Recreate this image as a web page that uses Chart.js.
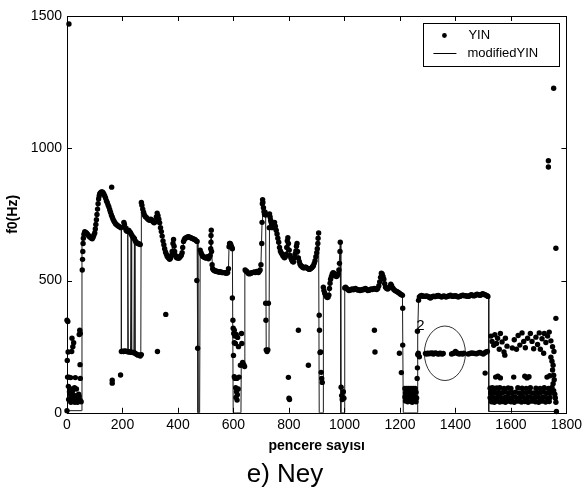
<!DOCTYPE html>
<html>
<head>
<meta charset="utf-8">
<script src="https://cdn.jsdelivr.net/npm/chart.js@4.4.1/dist/chart.umd.min.js"></script>
<style>
html,body{margin:0;padding:0;background:#fff;}
#wrap{width:586px;height:493px;}
</style>
</head>
<body>
<div id="wrap"><canvas id="c" width="586" height="493"></canvas></div>
<script>
// ---- data ----
const xTicks = [0,200,400,600,800,1000,1200,1400,1600,1800];
const yTicks = [0,500,1000,1500];
const seriesNames = ['YIN','modifiedYIN'];
const xTitle = 'pencere sayısı';
const yTitle = 'f0(Hz)';
const caption = 'e) Ney';
const annotationLabel = '2';

// YIN main pitch contour
const yinContour = [
[55,540],[56,580],[57,610],[58,640],[59,660],[61,675],[64,685],[67,682],[70,680],[73,676],[76,672],[79,668],[82,665],[85,664],[88,660],[91,658],[94,664],[97,672],[100,680],[102,695],[104,712],[106,730],[108,750],[110,770],[112,790],[114,808],[116,820],[118,828],[121,832],[124,835],[127,835],[130,832],[133,826],[136,820],[139,812],[142,802],[145,795],[148,786],[151,778],[154,768],[157,758],[160,748],[163,740],[166,732],[169,725],[172,720],[175,715],[178,712],[182,708],[186,705],[190,703],[194,700],
[205,720],[207,712],[210,700],[213,690],[216,686],[219,688],[222,690],[225,686],[228,682],[231,676],[234,670],[237,665],[240,662],[243,658],[246,650],[249,645],[252,642],[256,640],[260,638],[264,636],
[268,795],[270,785],[273,770],[276,758],[279,748],[282,742],[286,738],[290,734],[294,730],[298,728],[302,732],[306,728],[310,722],[314,718],[318,722],[322,740],[325,755],[328,745],[331,732],[334,718],[337,700],[340,685],[343,668],[346,650],[349,635],[352,620],[355,608],[358,600],[361,592],[364,588],[367,584],[370,580],[373,584],[376,595],[379,610],[382,640],[384,655],[386,630],[388,610],[391,595],[394,588],[397,585],[400,588],[403,584],[406,588],[409,592],[412,596],[415,605],[417,625],[420,648],[423,655],[426,660],[430,662],[434,665],[438,666],[442,664],[446,662],[450,660],[454,658],[458,656],[462,654],[466,650],[469,648],
[480,615],[483,605],[486,598],[489,592],[492,590],[495,588],[498,586],[501,585],[504,588],[507,590],[510,582],[513,588],[516,595],[518,620],[519,645],[519,670],[520,690],[521,610],[523,560],[525,545],[528,540],[531,538],[534,536],[537,535],[540,535],[543,533],[546,533],[549,532],[552,532],[555,532],[558,530],[561,530],[564,530],[567,530],[570,530],[573,528],[576,528],[579,530],[582,545],[584,628],[586,640],[588,640],[590,636],[592,630],[594,625],[596,620],
[642,540],[645,536],[648,534],[651,530],[654,527],[657,525],[660,527],[663,528],[666,530],[669,530],[672,531],[675,532],[678,530],[681,531],[684,534],[687,533],[690,530],[693,535],[696,540],[699,560],
[702,640],[703,720],[704,790],[705,806],[706,795],[708,775],[710,760],[712,750],[714,758],[716,748],
[729,700],[730,752],[732,740],[734,728],[736,720],[738,708],[740,700],[743,706],[746,715],[748,720],[751,705],[754,690],[757,676],[760,660],[763,645],[766,625],[769,612],[772,605],[775,600],[778,594],[781,590],[784,586],[787,590],[790,600],[792,625],[794,650],[796,662],[798,640],[801,615],[804,595],[807,585],[810,578],[813,572],[816,570],[819,585],[822,600],[825,612],[827,630],[829,640],[831,610],[834,585],[837,572],[840,562],[843,556],[846,554],[849,550],[852,548],[855,548],[858,550],[861,550],[864,548],[867,546],[870,545],[873,542],[876,544],[879,546],[882,548],[885,552],[888,556],[891,565],[894,575],[897,590],[900,605],[902,620],[904,640],[905,660],[907,680],
[924,475],[926,462],[929,452],[932,445],[935,440],[938,436],[941,438],[944,445],[946,470],[948,490],[950,505],[953,515],[956,525],[959,530],[962,528],[965,522],[968,518],[971,515],[974,518],[977,525],[980,540],[982,565],[984,610],[985,645],
[1001,472],[1004,475],[1008,470],[1012,466],[1016,462],[1020,463],[1024,466],[1028,468],[1032,465],[1036,468],[1040,470],[1044,466],[1048,464],[1052,465],[1056,462],[1060,463],[1064,466],[1068,465],[1072,468],[1076,470],[1080,466],[1084,462],[1088,463],[1092,465],[1096,468],[1100,466],[1104,468],[1108,470],[1112,468],[1116,466],[1120,470],[1124,480],[1127,495],[1130,512],[1133,528],[1136,525],[1139,515],[1142,505],[1145,488],[1148,475],[1152,470],[1156,468],[1160,472],[1164,478],[1167,486],[1170,480],[1174,472],[1178,466],[1182,462],[1186,460],[1190,458],[1194,455],[1198,452],[1202,448],[1206,446],[1209,444],
[1267,425],[1270,438],[1274,442],[1278,444],[1282,442],[1286,440],[1290,440],[1294,442],[1298,441],[1302,440],[1306,436],[1310,434],[1314,438],[1318,440],[1322,441],[1326,439],[1330,440],[1334,443],[1338,444],[1342,441],[1346,440],[1350,438],[1354,440],[1358,442],[1362,440],[1366,438],[1370,440],[1374,441],[1378,443],[1382,445],[1386,442],[1390,440],[1394,441],[1398,443],[1402,442],[1406,440],[1410,438],[1414,440],[1418,441],[1422,443],[1426,445],[1430,444],[1434,442],[1438,443],[1442,441],[1446,440],[1450,442],[1454,445],[1458,446],[1462,444],[1466,442],[1470,443],[1474,446],[1478,448],[1482,446],[1486,445],[1490,444],[1494,447],[1498,450],[1502,448],[1506,446],[1510,445],[1514,443],[1517,440]
];

// YIN off-contour estimates (octave errors, noise)
const yinStart = [[0,8],[0,350],[3,345],[1,198],[4,230],[2,135],[7,135],[13,133],[5,100],[9,80],[12,68],[16,58],[20,47],[6,50],[14,40],[24,52],[28,40],[32,56],[36,44],[40,52],[26,66],[20,82],[44,62],[47,48],[18,282],[21,250],[24,265],[17,232],[30,133],[44,296],[46,312],[48,300],[47,182],[48,130],[51,42],[38,40],[42,70],[34,90],[27,95],[10,92]];
const yinOutliers = [[7,1470],[161,853],[163,123],[163,112],[193,143],[326,232],[356,372],
[468,500],[471,244],[798,134],[800,55],[802,50],[834,312],[870,180],
[1108,312],[1110,230],[1198,225],[1205,152],[1210,256],[1210,395],[1507,150],
[1754,1227],[1735,953],[1735,929],[1762,622],[1762,357],[1764,5]];
const yinLowBand = [[196,232],[200,233],[204,232],[208,234],[212,233],[216,232],[220,231],[224,230],[228,230],[232,229],[236,228],[240,228],[244,226],[248,223],[252,220],[256,218],[260,219],[264,215],[268,220]];
const yinDrops = [
[596,434],[598,350],[599,320],[601,300],[603,312],[605,290],[603,265],[607,262],[610,296],[615,285],[618,250],[600,217],[603,136],[606,130],[612,130],[608,95],[611,80],[614,68],[609,58],[613,48],[617,90],[620,135],[625,180],[629,300],[630,262],[633,190],[637,182],[640,175],
[716,414],[717,350],[718,238],[721,232],[724,238],[726,414],
[909,369],[910,312],[912,228],[914,230],[916,153],[918,130],[920,115],
[988,97],[990,65],[992,50],[996,80],[998,55],
[1218,92],[1225,92],[1232,92],[1240,92],[1248,92],[1255,92],[1220,75],[1228,75],[1236,78],[1244,75],[1252,75],[1258,78],[1218,60],[1224,58],[1230,62],[1236,56],[1242,60],[1248,58],[1254,60],[1260,56],[1220,45],[1228,42],[1236,44],[1244,40],[1252,45],[1258,42],
[1262,130],[1263,170],[1264,220],[1263,308],[1266,225],[1270,212]];
const yinCircled = [[1292,224],[1296,222],[1300,225],[1304,223],[1308,225],[1312,224],[1316,226],[1320,222],[1324,224],[1328,226],[1332,224],[1336,223],[1340,222],[1344,225],[1348,224],[1352,222],[1356,224],[1386,222],[1391,224],[1396,226],[1400,232],[1404,228],[1408,224],[1414,222],[1420,224],[1426,222],[1430,225],[1446,222],[1452,224],[1458,226],[1464,225],[1470,224],[1476,223],[1482,226],[1488,228],[1494,225],[1500,222],[1505,226],[1510,230],[1515,232]];
const yinTail = [
[1528,290],[1532,270],[1538,255],[1542,295],[1548,262],[1552,282],[1558,240],[1562,300],[1568,268],[1575,230],[1580,282],[1586,252],[1605,245],[1612,276],[1620,240],[1626,292],[1632,256],[1640,302],[1646,270],[1652,246],[1660,282],[1670,300],[1676,270],[1682,242],[1690,286],[1696,258],[1702,302],[1706,240],[1712,280],[1720,300],[1726,266],[1732,290],[1738,305],[1744,272],[1750,250],[1755,232],[1578,218],[1718,225],
[1744,210],[1748,195],[1752,180],[1750,162],[1754,142],[1756,125],[1752,110],[1748,96],[1754,84],[1758,70],[1760,56],[1762,40],
[1545,135],[1553,138],[1562,132],[1610,135],[1650,138],[1658,132],[1665,136],[1730,135],[1740,140],
[1525,93],[1533,95],[1541,92],[1549,94],[1560,95],[1575,92],[1590,94],[1600,92],[1625,95],[1640,93],[1655,92],[1670,95],[1690,93],[1705,92],[1720,95],[1735,92],
[1527,76],[1535,78],[1545,75],[1556,77],[1568,76],[1580,78],[1592,75],[1605,76],[1617,78],[1630,75],[1642,77],[1655,76],[1668,78],[1680,75],[1692,77],[1705,76],[1718,78],[1730,75],[1742,77],
[1525,57],[1534,60],[1543,55],[1552,58],[1561,60],[1570,55],[1579,58],[1588,60],[1597,56],[1606,58],[1615,60],[1624,55],[1633,58],[1642,60],[1651,56],[1660,58],[1669,60],[1678,55],[1687,58],[1696,60],[1705,56],[1714,58],[1723,60],[1732,55],[1741,58],
[1530,42],[1540,40],[1550,44],[1560,41],[1570,43],[1580,40],[1590,44],[1600,42],[1612,40],[1625,44],[1638,41],[1650,43],[1662,40],[1675,44],[1688,42],[1700,40],[1712,44],[1725,41],[1738,43]];

// modifiedYIN line
const modifiedYIN = [
[0,8],[52,8],[54,640],[58,675],[64,685],[70,680],[79,668],[88,660],[94,664],[100,680],[106,730],[112,790],[118,828],[124,835],[130,832],[136,820],[142,802],[148,786],[154,768],[160,748],[166,732],[172,720],[178,712],[186,705],[194,700],[196,700],[196,232],[217,232],[219,705],[221,232],[229,230],[231,686],[233,230],[241,228],[243,660],[245,226],[266,218],[267,640],[268,795],[273,770],[279,748],[286,738],[294,730],[302,732],[310,722],[318,722],[325,755],[331,732],[337,700],[343,668],[349,635],[355,608],[361,592],[370,580],[376,595],[382,640],[384,655],[388,610],[394,588],[403,584],[412,596],[417,625],[423,655],[430,662],[438,666],[450,660],[462,654],[469,648],[472,0],[478,0],[480,615],[486,598],[495,588],[504,588],[510,582],[516,595],[519,660],[521,610],[525,545],[537,535],[555,532],[576,528],[582,545],[584,628],[588,640],[596,620],[599,0],[627,0],[628,175],[640,178],[641,540],[657,525],[675,532],[690,530],[699,560],[703,720],[705,806],[710,760],[716,748],[718,237],[728,237],[730,752],[740,700],[748,720],[757,676],[766,625],[775,600],[784,586],[790,600],[796,662],[804,595],[816,570],[822,600],[829,640],[834,585],[843,556],[855,548],[870,545],[882,548],[891,565],[900,605],[907,680],[909,0],[923,0],[924,475],[932,445],[938,436],[944,445],[950,505],[959,530],[971,515],[980,540],[985,645],[987,0],[999,0],[1001,472],[1016,462],[1040,470],[1060,463],[1080,466],[1100,466],[1120,470],[1130,512],[1133,528],[1142,505],[1152,470],[1167,486],[1182,462],[1198,452],[1209,444],[1212,0],[1262,0],[1264,300],[1267,425],[1274,442],[1300,441],[1330,440],[1360,440],[1400,442],[1430,444],[1460,445],[1490,444],[1500,450],[1517,440],[1520,440],[1520,5],[1760,5]];

// circled annotation (data units)
const ellipseCenter = [1362, 225];
const ellipseRadii = [74, 103];
const labelPos = [1274, 328];

// ---- build ----
const toXY = a => a.map(p => ({x:p[0], y:p[1]}));
const yinAll = [].concat(yinContour, yinStart, yinOutliers, yinLowBand, yinDrops, yinCircled, yinTail);
const FONT = "'Liberation Sans', Arial, Helvetica, sans-serif";

const framePlugin = {
  id: 'frame',
  afterDraw(chart) {
    const {ctx, chartArea: a, scales: {x, y}} = chart;
    ctx.save();
    ctx.strokeStyle = '#000';
    ctx.lineWidth = 1;
    ctx.strokeRect(Math.round(a.left)+0.5, Math.round(a.top)+0.5, Math.round(a.right-a.left), Math.round(a.bottom-a.top));
    const tl = 5;
    ctx.beginPath();
    x.ticks.forEach(t => {
      const px = Math.round(x.getPixelForValue(t.value)) + 0.5;
      ctx.moveTo(px, a.bottom); ctx.lineTo(px, a.bottom - tl);
      ctx.moveTo(px, a.top); ctx.lineTo(px, a.top + tl);
    });
    y.ticks.forEach(t => {
      const py = Math.round(y.getPixelForValue(t.value)) + 0.5;
      ctx.moveTo(a.left, py); ctx.lineTo(a.left + tl, py);
      ctx.moveTo(a.right, py); ctx.lineTo(a.right - tl, py);
    });
    ctx.stroke();

    // ellipse annotation
    const cx = x.getPixelForValue(ellipseCenter[0]);
    const cy = y.getPixelForValue(ellipseCenter[1]);
    const rx = x.getPixelForValue(ellipseCenter[0] + ellipseRadii[0]) - cx;
    const ry = cy - y.getPixelForValue(ellipseCenter[1] + ellipseRadii[1]);
    ctx.beginPath();
    ctx.ellipse(cx, cy, rx, ry, 0, 0, Math.PI*2);
    ctx.lineWidth = 0.8;
    ctx.stroke();
    ctx.fillStyle = '#000';
    ctx.font = '15px ' + FONT;
    ctx.textAlign = 'center';
    ctx.textBaseline = 'middle';
    ctx.fillText(annotationLabel, x.getPixelForValue(labelPos[0]), y.getPixelForValue(labelPos[1]));

    // legend box
    const L = a.right - 143, T = a.top + 7, W = 136, H = 43;
    ctx.lineWidth = 1;
    ctx.fillStyle = '#fff';
    ctx.fillRect(L, T, W, H);
    ctx.strokeRect(Math.round(L)+0.5, Math.round(T)+0.5, W, H);
    ctx.fillStyle = '#000';
    ctx.beginPath();
    ctx.arc(L + 21, T + 12.5, 2.4, 0, Math.PI*2);
    ctx.fill();
    ctx.beginPath();
    ctx.moveTo(L + 10, T + 30.5); ctx.lineTo(L + 33, T + 30.5);
    ctx.stroke();
    ctx.font = '13px ' + FONT;
    ctx.textAlign = 'left';
    ctx.fillText(seriesNames[0], L + 45, T + 12.5);
    ctx.fillText(seriesNames[1], L + 44, T + 30.5);
    ctx.restore();
  }
};

new Chart(document.getElementById('c'), {
  type: 'scatter',
  data: {
    datasets: [
      { label: seriesNames[1], data: toXY(modifiedYIN), showLine: true, borderColor: '#1a1a1a', borderWidth: 1, pointRadius: 0, tension: 0, fill: false, order: 2 },
      { label: seriesNames[0], data: toXY(yinAll), showLine: false, backgroundColor: '#000', borderWidth: 0, pointRadius: 2.7, pointHoverRadius: 2.7, clip: false, order: 1 }
    ]
  },
  options: {
    responsive: false,
    animation: false,
    devicePixelRatio: 1,
    layout: { padding: { top: 16, right: 16, left: 0, bottom: 0 } },
    plugins: {
      legend: { display: false },
      tooltip: { enabled: false },
      title: { display: true, text: caption, position: 'bottom', color: '#000', font: { family: FONT, size: 26, weight: 'normal', lineHeight: 1.2 }, padding: { top: 1, bottom: 3 } }
    },
    scales: {
      x: {
        type: 'linear', min: 0, max: 1800,
        afterBuildTicks: s => { s.ticks = xTicks.map(v => ({value: v})); },
        afterFit: s => { s.height = 45; },
        grid: { display: false, drawTicks: false }, border: { display: false },
        ticks: { color: '#000', padding: 4, maxRotation: 0, autoSkip: false, font: { family: FONT, size: 14 }, callback: v => String(v) },
        title: { display: true, text: xTitle, color: '#000', font: { family: FONT, size: 14, weight: 'bold', lineHeight: 1.2 }, padding: { top: 0, bottom: 3 } }
      },
      y: {
        type: 'linear', min: 0, max: 1500,
        afterBuildTicks: s => { s.ticks = yTicks.map(v => ({value: v})); },
        afterFit: s => { s.width = 67; },
        grid: { display: false, drawTicks: false }, border: { display: false },
        ticks: { color: '#000', padding: 5, autoSkip: false, font: { family: FONT, size: 14 }, callback: v => String(v) },
        title: { display: true, text: yTitle, color: '#000', font: { family: FONT, size: 14, weight: 'bold', lineHeight: 1.2 }, padding: { top: 5, bottom: 0 } }
      }
    }
  },
  plugins: [framePlugin]
});
</script>
</body>
</html>
